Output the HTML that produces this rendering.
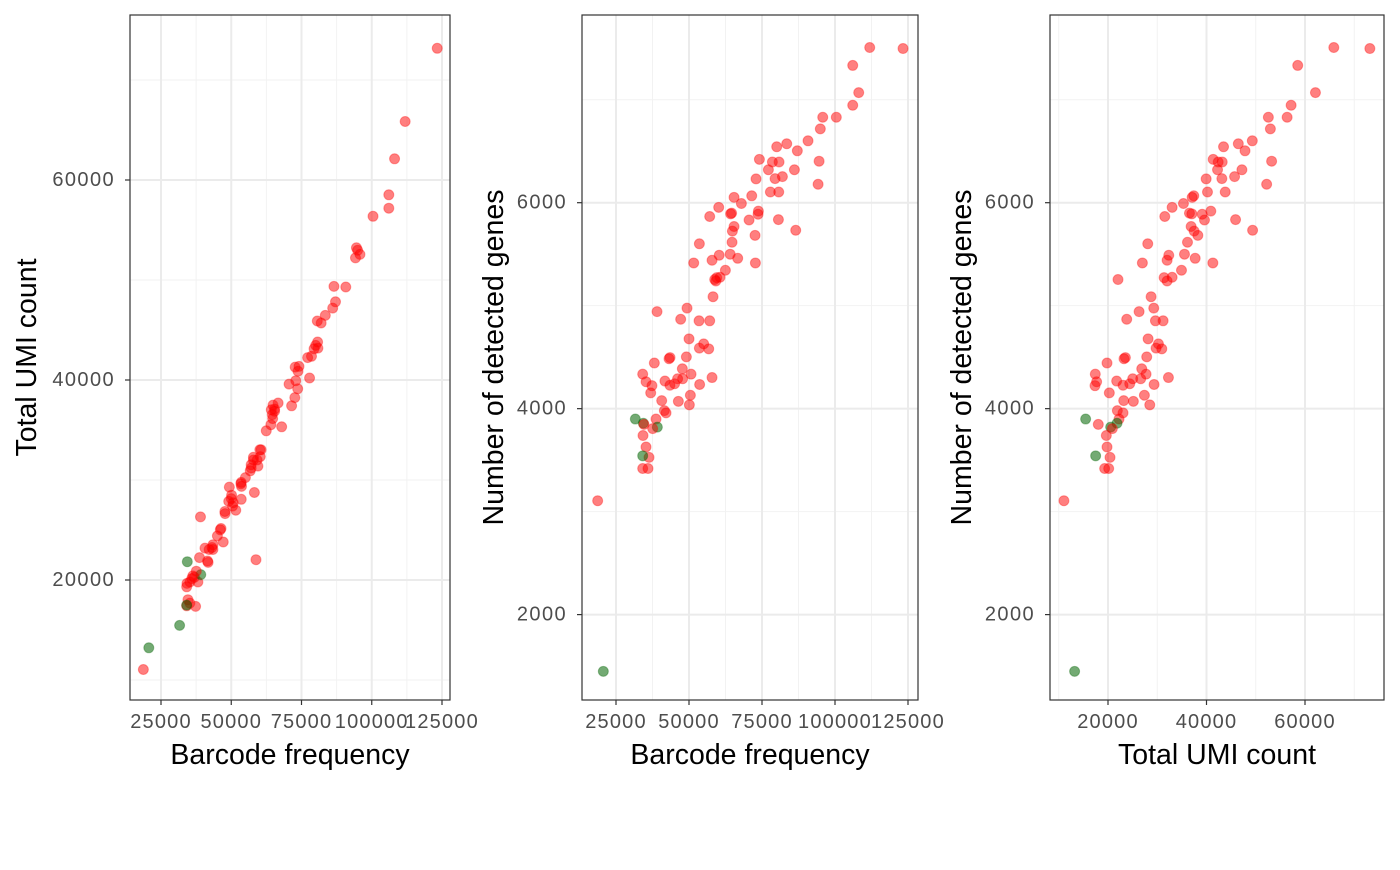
<!DOCTYPE html>
<html><head><meta charset="utf-8"><style>
html,body{margin:0;padding:0;background:#fff;}
svg text{font-family:"Liberation Sans",Arial,sans-serif;}
</style></head><body>
<svg id="chart" width="1400" height="865" viewBox="0 0 1400 865" xmlns="http://www.w3.org/2000/svg">
<rect x="0" y="0" width="1400" height="865" fill="#fff"/>
</svg>
<script>
// cells: barcode frequency, total UMI count, detected genes, group (0 red, 1 green)
const barcode = [111890,123300,106070,108120,106070,100450,95800,94970,90760,83470,80040,87100,74110,94550,78560,80840,77190,86100,81990,79470,72960,94210,77870,80730,71480,65430,67940,60170,64600,64250,73760,73650,57090,70570,80620,65430,64860,86550,72620,64740,53550,60330,64100,57890,66680,51610,72740,62460,60630,59500,58800,59200,58230,49320,39050,47150,53440,57090,50010,55030,53550,56750,49100,43500,43160,38130,47720,34140,50700,57890,35290,37310,41760,43470,45070,46100,47810,53640,36880,50470,40650,46360,50120,41560,42130,38700,31620,34360,39160,34590,37560,34250,35280,36310,34140,34140,35960,18720,20660];
const umi = [65850,73170,58520,62120,57180,56370,52560,52970,49300,46460,43460,47820,41360,53220,42370,43190,42240,47190,45700,43120,39930,52210,40200,43800,37420,37090,35320,33020,36540,37020,40880,39120,31530,39590,45900,36880,37490,49360,38240,36140,28070,32340,35530,32000,37700,26980,41290,34920,33020,31390,22030,32000,28750,29290,26310,23800,29630,31190,28140,30240,29760,30920,27860,23530,23250,19800,26850,17420,27730,32270,17690,17360,21760,23050,24410,25020,26640,29360,20270,27390,23190,25150,28480,21900,23050,22240,15460,21830,20540,18030,20880,19660,19800,20410,17490,19320,20140,11050,13220];
const genes = [7507,7497,7333,7069,6946,6830,6830,6717,6601,6572,6543,6504,6421,6403,6395,6395,6320,6320,6253,6234,6231,6179,6104,6104,6067,6052,5992,5955,5899,5892,5918,5888,5866,5832,5836,5769,5724,5732,5683,5616,5601,5490,5500,5441,5460,5415,5415,5344,5276,5272,5254,5240,5087,4976,4942,4868,4853,4853,4678,4629,4588,4581,4503,4496,4485,4443,4387,4335,4335,4302,4261,4223,4268,4227,4242,4290,4290,4235,4153,4130,4078,4071,4037,3981,3959,3899,3899,3858,3821,3847,3806,3739,3628,3527,3542,3419,3419,3106,1449];
const group = [0,0,0,0,0,0,0,0,0,0,0,0,0,0,0,0,0,0,0,0,0,0,0,0,0,0,0,0,0,0,0,0,0,0,0,0,0,0,0,0,0,0,0,0,0,0,0,0,0,0,0,0,0,0,0,0,0,0,0,0,0,0,0,0,0,0,0,0,0,0,0,0,0,0,0,0,0,0,0,0,0,0,0,0,0,0,1,1,1,0,0,0,0,0,1,0,0,0,1];
const barcodeTicks = [25000,50000,75000,100000,125000];
const barcodeMinor = [37500,62500,87500,112500];
const umiTicks = [20000,40000,60000];
const umiMinor = [10000,30000,50000,70000];
const genesTicks = [2000,4000,6000];
const genesMinor = [3000,5000,7000];

const NS = "http://www.w3.org/2000/svg";
const svg = document.getElementById('chart');
function mk(tag, attrs, parent){ const e=document.createElementNS(NS,tag); for(const k in attrs) e.setAttribute(k,attrs[k]); (parent||svg).appendChild(e); return e; }
function lin(d0,d1,r0,r1){ return v => r0 + (v-d0)*(r1-r0)/(d1-d0); }

const T=15, B=700;
const panels = [
  {name:'barcode-vs-umi', L:130, R:450, xs:lin(25000,125000,161,442), ys:lin(20000,60000,580,180),
   xv:barcode, yv:umi, xt:barcodeTicks, xm:barcodeMinor, yt:umiTicks, ym:umiMinor,
   xtitle:'Barcode frequency', ytitle:'Total UMI count', ytx:36},
  {name:'barcode-vs-genes', L:582, R:918, xs:lin(25000,125000,616,908), ys:lin(2000,6000,614.6,202.7),
   xv:barcode, yv:genes, xt:barcodeTicks, xm:barcodeMinor, yt:genesTicks, ym:genesMinor,
   xtitle:'Barcode frequency', ytitle:'Number of detected genes', ytx:503},
  {name:'umi-vs-genes', L:1050, R:1384, xs:lin(20000,60000,1108,1305), ys:lin(2000,6000,614.6,202.7),
   xv:umi, yv:genes, xt:umiTicks, xm:umiMinor, yt:genesTicks, ym:genesMinor,
   xtitle:'Total UMI count', ytitle:'Number of detected genes', ytx:971}
];

panels.forEach(p=>{
  const g = mk('g',{});
  
  
  mk('rect',{x:p.L,y:T,width:p.R-p.L,height:B-T,fill:'#fff'},g);
  p.xm.forEach(v=>{ const x=p.xs(v); if(x>p.L&&x<p.R){ const l=mk('line',{x1:x,x2:x,y1:T,y2:B,stroke:'#f2f2f2','stroke-width':1},g);
      }});
  p.ym.forEach(v=>{ const y=p.ys(v); if(y>T&&y<B){ const l=mk('line',{x1:p.L,x2:p.R,y1:y,y2:y,stroke:'#f2f2f2','stroke-width':1},g);
      }});
  p.xt.forEach(v=>{ const x=p.xs(v); const l=mk('line',{x1:x,x2:x,y1:T,y2:B,stroke:'#ebebeb','stroke-width':2},g);
      });
  p.yt.forEach(v=>{ const y=p.ys(v); const l=mk('line',{x1:p.L,x2:p.R,y1:y,y2:y,stroke:'#ebebeb','stroke-width':2},g);
      });
  for(let i=0;i<p.xv.length;i++){
    const c = mk('circle',{cx:p.xs(p.xv[i]),cy:p.ys(p.yv[i]),r:5,
      fill: group[i] ? 'rgba(0,100,0,0.55)' : 'rgba(255,0,0,0.5)',
      stroke: group[i] ? 'rgba(0,100,0,0.35)' : 'rgba(255,0,0,0.35)', 'stroke-width':1},g);
    
    
  }
  const fr = mk('rect',{x:p.L,y:T,width:p.R-p.L,height:B-T,fill:'none',stroke:'#333','stroke-width':1.2},g);
   
  p.xt.forEach(v=>{ const x=p.xs(v);
    mk('line',{x1:x,x2:x,y1:B,y2:B+5,stroke:'#333','stroke-width':1.2},g);
    const t=mk('text',{x:x,y:722,'text-anchor':'middle','dominant-baseline':'central','font-size':20,fill:'#4d4d4d','letter-spacing':1.2},g);
    t.textContent=String(v);
     
  });
  p.yt.forEach(v=>{ const y=p.ys(v);
    mk('line',{x1:p.L-5,x2:p.L,y1:y,y2:y,stroke:'#333','stroke-width':1.2},g);
    const t=mk('text',{x:p.L-15,y:y,'text-anchor':'end','dominant-baseline':'central','font-size':20,fill:'#4d4d4d','letter-spacing':1.4},g);
    t.textContent=String(v);
     
  });
  const xt=mk('text',{x:(p.L+p.R)/2,y:764,'text-anchor':'middle','font-size':28.5,fill:'#000'},g);
  xt.textContent=p.xtitle;
   
  const yt=mk('text',{x:0,y:0,'text-anchor':'middle','font-size':28.5,fill:'#000',transform:`translate(${p.ytx},${(T+B)/2}) rotate(-90)`},g);
  yt.textContent=p.ytitle;
   
});
</script>
</body></html>
